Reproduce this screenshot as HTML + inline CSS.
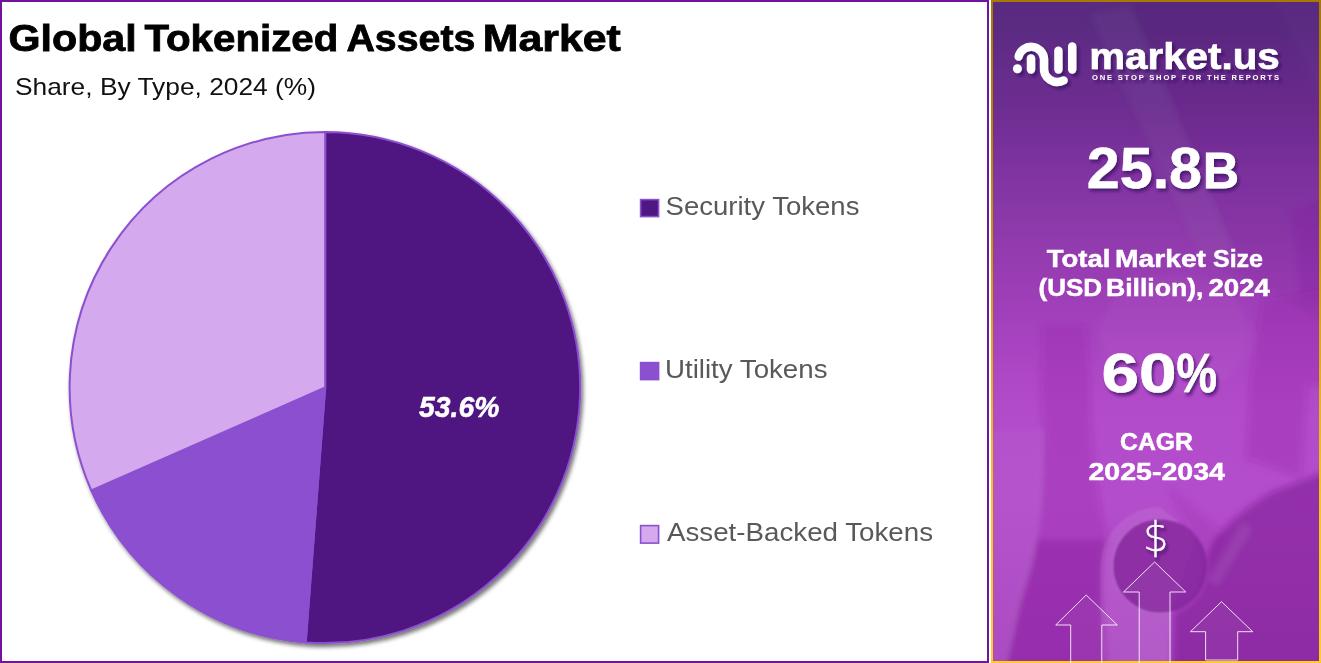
<!DOCTYPE html>
<html lang="en">
<head>
<meta charset="utf-8">
<title>Global Tokenized Assets Market</title>
<style>
  html, body { margin: 0; padding: 0; background: #ffffff; }
  body { width: 1321px; height: 663px; position: relative; overflow: hidden;
         font-family: "Liberation Sans", sans-serif; }
  #left { position: absolute; left: 0; top: 0; width: 985px; height: 659px;
          border: 2px solid #71149b; background: #ffffff; }
  #right { position: absolute; left: 991px; top: 0; width: 326px; height: 659px;
           border: 2px solid #c99a06; overflow: hidden;
           border-image: linear-gradient(180deg, #a67a02 0%, #b98a05 25%, #dca90f 50%, #f7c518 75%, #ffcd1c 100%) 1;
           background: linear-gradient(180deg, #592a80 0%, #5b2b82 4%, #632c89 9%, #702e93 17.5%, #7e33a0 25%, #8b39a9 33%, #9a3db4 42%, #a441bd 49%, #ae48c6 57%, #b24cca 63%, #b34dcb 76%, #ae48c5 90%, #a844c0 100%); }
  svg { position: absolute; left: 0; top: 0; }
  .t { font-family: "Liberation Sans", sans-serif; }
</style>
</head>
<body>
<div id="left"></div>
<div id="right"></div>
<svg id="main" width="1321" height="663" viewBox="0 0 1321 663">
  <defs>
    <filter id="pieShadow" x="-5%" y="-5%" width="112%" height="112%">
      <feGaussianBlur in="SourceAlpha" stdDeviation="2.2"/>
      <feOffset dx="1.5" dy="3" result="o"/>
      <feComponentTransfer><feFuncA type="linear" slope="0.55"/></feComponentTransfer>
      <feMerge><feMergeNode/><feMergeNode in="SourceGraphic"/></feMerge>
    </filter>
    <filter id="txtShadow" x="-10%" y="-10%" width="125%" height="135%">
      <feGaussianBlur in="SourceAlpha" stdDeviation="1.6"/>
      <feOffset dx="2" dy="3" result="o"/>
      <feFlood flood-color="#3b1262" flood-opacity="0.75"/>
      <feComposite in2="o" operator="in"/>
      <feMerge><feMergeNode/><feMergeNode in="SourceGraphic"/></feMerge>
    </filter>
    <filter id="logoShadow" x="-5%" y="-10%" width="112%" height="130%">
      <feGaussianBlur in="SourceAlpha" stdDeviation="1.2"/>
      <feOffset dx="2.5" dy="3" result="o"/>
      <feFlood flood-color="#3b1262" flood-opacity="0.7"/>
      <feComposite in2="o" operator="in"/>
      <feMerge><feMergeNode/><feMergeNode in="SourceGraphic"/></feMerge>
    </filter>
    <filter id="soft" x="-10%" y="-10%" width="120%" height="120%"><feGaussianBlur stdDeviation="3"/></filter>
    <filter id="soft2" x="-10%" y="-10%" width="120%" height="120%"><feGaussianBlur stdDeviation="1.2"/></filter>
  </defs>

  <!-- ===== titles ===== -->
  <g class="t" fill="#000000" stroke="#000000" stroke-width="0.8" font-weight="700" font-size="37">
    <text x="8.5" y="50.8" textLength="128.2" lengthAdjust="spacingAndGlyphs">Global</text>
    <text x="144.4" y="50.8" textLength="194" lengthAdjust="spacingAndGlyphs">Tokenized</text>
    <text x="346.4" y="50.8" textLength="129" lengthAdjust="spacingAndGlyphs">Assets</text>
    <text x="482.8" y="50.8" textLength="138" lengthAdjust="spacingAndGlyphs">Market</text>
  </g>
  <text class="t" x="15" y="94.5" font-size="24" fill="#111111" textLength="301" lengthAdjust="spacingAndGlyphs">Share, By Type, 2024 (%)</text>

  <!-- ===== pie ===== -->
  <g filter="url(#pieShadow)" stroke="#8b50cf" stroke-width="2" stroke-linejoin="round">
    <!-- dark: from top clockwise to bottom (4deg past) -->
    <path d="M325.2 387.5 L325.2 131.9 A255.6 255.6 0 1 1 305.7 642.4 Z" fill="#4f1781"/>
    <!-- medium -->
    <path d="M325.2 387.5 L305.7 642.4 A255.6 255.6 0 0 1 91.3 490.5 Z" fill="#8b50cf"/>
    <!-- light -->
    <path d="M325.2 387.5 L91.3 490.5 A255.6 255.6 0 0 1 325.2 131.9 Z" fill="#d4a9ed"/>
  </g>
  <text class="t" x="419" y="417.3" font-size="29.5" font-weight="700" font-style="italic" fill="#ffffff" stroke="#ffffff" stroke-width="0.5" textLength="80.5" lengthAdjust="spacingAndGlyphs">53.6%</text>

  <!-- ===== legend ===== -->
  <g stroke="#8b50cf" stroke-width="1.6">
    <rect x="640.6" y="199.6" width="18" height="17" fill="#4f1781"/>
    <rect x="640.6" y="362.6" width="18" height="17" fill="#8b50cf"/>
    <rect x="640.6" y="525.6" width="18" height="17.5" fill="#d4a9ed"/>
  </g>
  <g class="t" font-size="25" fill="#595959">
    <text x="665.6" y="214.6" textLength="193.8" lengthAdjust="spacingAndGlyphs">Security Tokens</text>
    <text x="665" y="378" textLength="162.5" lengthAdjust="spacingAndGlyphs">Utility Tokens</text>
    <text x="667" y="540.7" textLength="266" lengthAdjust="spacingAndGlyphs">Asset-Backed Tokens</text>
  </g>

  <!-- ===== right panel background decoration ===== -->
  <g id="bgdeco">
    <clipPath id="rclip"><rect x="993" y="2" width="326" height="659"/></clipPath>
    <g clip-path="url(#rclip)">
      <g filter="url(#soft)">
        <!-- tablet sheet at top (slightly darker, with lighter left edge) -->
        <polygon points="1090,14 1262,-20 1345,150 1340,330 1200,255" fill="#3b0b66" opacity="0.07"/>
        <polygon points="1090,14 1200,255 1240,268 1130,6" fill="#ffffff" opacity="0.05"/>
        <!-- centre lighter glow in the middle -->
        <ellipse cx="1175" cy="335" rx="75" ry="60" fill="#ffffff" opacity="0.035"/>
        <!-- right edge darker strip middle -->
        <polygon points="1290,210 1325,200 1325,300 1300,300" fill="#7a1f98" opacity="0.15"/>
        <!-- left paper (lighter) -->
        <path d="M985 430 L1044 430 C1046 480 1040 540 1022 600 L1006 670 L985 670 Z" fill="#ffffff" opacity="0.035"/>
        <!-- forearm shadow band -->
        <path d="M1043 325 L1086 325 L1090 385 C1090 450 1098 500 1108 540 C1100 560 1100 600 1108 670 L1006 670 L1022 600 C1040 540 1046 480 1041 385 Z" fill="#941fa4" opacity="0.28"/>
        <path d="M1036 540 L1106 540 C1100 560 1100 600 1106 670 L1004 670 L1020 600 C1028 575 1033 560 1036 540 Z" fill="#7a1690" opacity="0.30"/>
        <!-- small darker sheet top-right of the lower area -->
        <polygon points="1262,300 1325,290 1325,385 1307,385 1301,478 1246,458 1250,385" fill="#941fa4" opacity="0.28"/>
        <!-- medium wedge (book edge) -->
        <polygon points="1168,486 1224,534 1206,574 1196,540 1180,512" fill="#941fa4" opacity="0.22"/>
        <!-- dark right-bottom (hand) -->
        <path d="M1330 470 L1272 492 C1250 505 1228 522 1214 540 L1207 556 L1206 575 L1199 593 L1187 606 L1174 613 L1172 670 L1330 670 Z" fill="#74148c" opacity="0.52"/>
        <!-- pen highlight -->
        <polygon points="1243,522 1252,530 1217,586 1209,580" fill="#ffffff" opacity="0.08"/>
      </g>
      <!-- cup -->
      <g filter="url(#soft2)">
        <path d="M1160 507 A59 59 0 0 0 1101 566 L1101 670 L1172 670 L1172 610 L1196 536 Z" fill="#ffffff" opacity="0.085"/>
        <circle cx="1160" cy="566" r="47" fill="#7a1c92" opacity="0.66"/>
      </g>
    </g>
  </g>

  <!-- ===== logo ===== -->
  <g filter="url(#logoShadow)">
    <g fill="none" stroke="#ffffff" stroke-width="8.4" stroke-linecap="round">
      <path d="M1018.6 56.6 A12.9 12.9 0 0 1 1044 59 L1044 67.5 A13.4 13.4 0 0 0 1063.6 80.4"/>
      <path d="M1031 58.4 L1031 69.5"/>
      <path d="M1058.4 50.8 L1058.4 69.5"/>
      <path d="M1072.2 46.4 L1072.2 69.5"/>
    </g>
    <circle cx="1017.4" cy="68.8" r="4.5" fill="#ffffff"/>
    <text class="t" x="1089.2" y="68.6" font-size="36" font-weight="700" fill="#ffffff" stroke="#ffffff" stroke-width="0.6" textLength="190.6" lengthAdjust="spacingAndGlyphs">market.us</text>
    <text class="t" x="1092" y="79.6" font-size="7.6" font-weight="700" fill="#ffffff" textLength="187" lengthAdjust="spacing">ONE STOP SHOP FOR THE REPORTS</text>
  </g>

  <!-- ===== numbers ===== -->
  <g class="t" fill="#ffffff" font-weight="700">
    <g filter="url(#txtShadow)">
      <text x="1086.8" y="187.8" font-size="56.5" textLength="115.2" stroke="#ffffff" stroke-width="0.5" lengthAdjust="spacingAndGlyphs">25.8</text>
      <text x="1203" y="187.8" font-size="50.5" textLength="36" stroke="#ffffff" stroke-width="0.9" lengthAdjust="spacingAndGlyphs">B</text>
    </g>
    <g font-size="24.3" stroke="#ffffff" stroke-width="0.5" lengthAdjust="spacingAndGlyphs">
      <text x="1046.8" y="266.5" textLength="63.5" lengthAdjust="spacingAndGlyphs">Total</text>
      <text x="1115" y="266.5" textLength="91" lengthAdjust="spacingAndGlyphs">Market</text>
      <text x="1213" y="266.5" textLength="50" lengthAdjust="spacingAndGlyphs">Size</text>
      <text x="1038.5" y="296" textLength="63.5" lengthAdjust="spacingAndGlyphs">(USD</text>
      <text x="1106" y="296" textLength="97.5" lengthAdjust="spacingAndGlyphs">Billion),</text>
      <text x="1208.4" y="296" textLength="61.5" lengthAdjust="spacingAndGlyphs">2024</text>
    </g>
    <g filter="url(#txtShadow)">
      <text x="1101.6" y="391.5" font-size="55" stroke="#ffffff" stroke-width="0.6" textLength="75" lengthAdjust="spacingAndGlyphs">60</text>
      <text x="1176.5" y="391.5" font-size="55" stroke="#ffffff" stroke-width="0.6" textLength="40.5" lengthAdjust="spacingAndGlyphs">%</text>
    </g>
    <text x="1120" y="450" font-size="23.5" stroke="#ffffff" stroke-width="0.5" textLength="73" lengthAdjust="spacingAndGlyphs">CAGR</text>
    <text x="1088.5" y="479.5" font-size="24" stroke="#ffffff" stroke-width="0.5" textLength="136.5" lengthAdjust="spacingAndGlyphs">2025-2034</text>
  </g>

  <!-- ===== dollar + arrows ===== -->
  <text x="1143" y="551" font-family="'DejaVu Sans Light','DejaVu Sans',sans-serif" font-weight="200" font-size="40" fill="#ffffff" stroke="#ffffff" stroke-width="0.35" filter="url(#txtShadow)">$</text>
  <g fill="#ffffff" fill-opacity="0.04" stroke="#ffffff" stroke-width="1" stroke-opacity="0.85">
    <polygon points="1154.6,562 1185.8,592 1170,592 1170,664 1139.2,664 1139.2,592 1123.5,592"/>
    <polygon points="1086.2,595 1117.3,625 1101.8,625 1101.8,664 1070.7,664 1070.7,625 1055.7,625"/>
    <polygon points="1221.5,601.7 1252.7,631.7 1237.7,631.7 1237.7,660 1205.6,660 1205.6,631.7 1190.4,631.7"/>
  </g>
</svg>
</body>
</html>
